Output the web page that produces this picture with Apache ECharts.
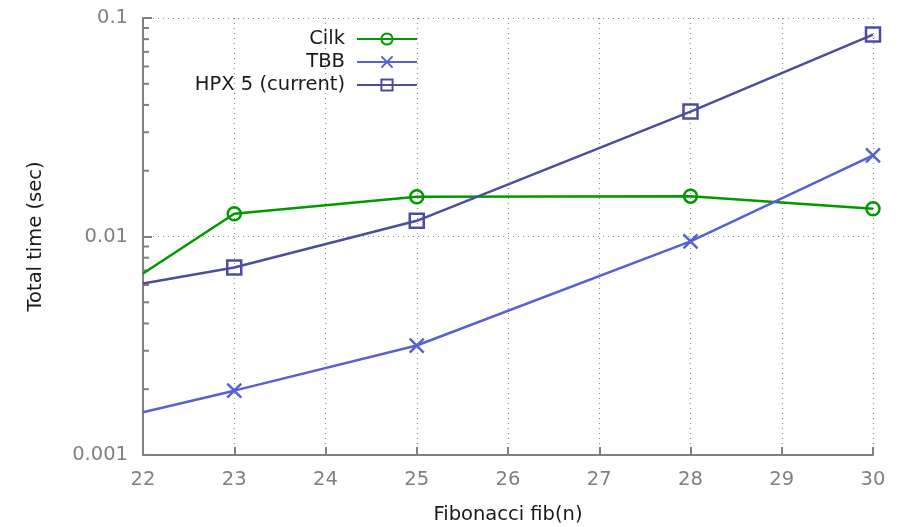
<!DOCTYPE html>
<html>
<head>
<meta charset="utf-8">
<script src="https://cdn.jsdelivr.net/npm/echarts@6/dist/echarts.min.js"></script>
<style>
  html, body { margin: 0; padding: 0; background: #fff; }
  #chart { width: 909px; height: 527px; }
</style>
</head>
<body>
<div id="chart"></div>
<script>
const fibN = [22, 23, 25, 28, 30]
const cilk = [0.00677, 0.0127, 0.0152, 0.0153, 0.0134]
const tbb = [0.00157, 0.00197, 0.00317, 0.0095, 0.0235]
const hpx = [0.0061, 0.00721, 0.0118, 0.0373, 0.084]

const axisGray = '#808080'
const font = 'DejaVu Sans'
const fs = 19.5

// first point sits on the left edge and has no marker in the original
const toData = (vals) => vals.map((v, i) => {
  const item = { value: [fibN[i], v] }
  if (i === 0) item.symbol = 'none'
  return item
})

const makeSeries = (name, vals, color, symbol, size) => ({
  name,
  type: 'line',
  data: toData(vals),
  symbol,
  symbolSize: size,
  showAllSymbol: true,
  lineStyle: { color, width: 2.5 },
  itemStyle: { color: 'rgba(0,0,0,0)', borderColor: color, borderWidth: 2.5 },
  emphasis: { disabled: true },
  animation: false
})

const chart = echarts.init(document.getElementById('chart'))

const option = {
  backgroundColor: '#fff',
  textStyle: { fontFamily: font },
  grid: { left: 143, right: 36, top: 18, bottom: 72, containLabel: false, outerBoundsMode: 'none' },
  legend: {
    orient: 'vertical',
    right: 491,
    top: 29,
    padding: 0,
    align: 'right',
    itemWidth: 60,
    itemHeight: 14,
    itemGap: 3,
    textStyle: { fontSize: fs, lineHeight: 20, color: '#1a1a1a', fontFamily: font, padding: [0, 7, 0, 0] },
    data: ['Cilk', 'TBB', 'HPX 5 (current)']
  },
  xAxis: {
    type: 'value',
    min: 22,
    max: 30,
    interval: 1,
    name: 'Fibonacci fib(n)',
    nameLocation: 'middle',
    nameGap: 50,
    nameTextStyle: { fontSize: fs, color: '#1a1a1a', fontFamily: font },
    axisLine: { show: true, lineStyle: { color: axisGray, width: 2 } },
    axisTick: { show: true, inside: true, length: 8, lineStyle: { color: axisGray, width: 2 } },
    axisLabel: { fontSize: fs, color: axisGray, margin: 15, fontFamily: font },
    splitLine: { show: true, lineStyle: { color: '#8c8c8c', type: [1, 4], width: 1.2 } }
  },
  yAxis: {
    type: 'log',
    min: 0.001,
    max: 0.1,
    logBase: 10,
    name: 'Total time (sec)',
    nameLocation: 'middle',
    nameGap: 97,
    nameTextStyle: { fontSize: fs, color: '#1a1a1a', fontFamily: font },
    axisLine: { show: true, lineStyle: { color: axisGray, width: 2 } },
    axisTick: { show: true, inside: true, length: 9, lineStyle: { color: axisGray, width: 2 } },
    axisLabel: { fontSize: fs, color: axisGray, margin: 15, fontFamily: font },
    splitLine: { show: true, lineStyle: { color: '#8c8c8c', type: [1, 4], width: 1.2 } }
  },
  series: [
    makeSeries('Cilk', cilk, '#009a00', 'circle', 13),
    makeSeries('TBB', tbb, '#5561d4', 'path://M0,0L10,10M10,0L0,10', 14),
    makeSeries('HPX 5 (current)', hpx, '#4d4d9f', 'rect', 14)
  ]
}

chart.setOption(option)

// minor ticks of the log axis (2..9 within each decade)
const minorTicks = []
const axisX = chart.convertToPixel({ xAxisIndex: 0 }, 22)
for (const base of [0.001, 0.01]) {
  for (let k = 2; k <= 9; k++) {
    const py = chart.convertToPixel({ yAxisIndex: 0 }, base * k)
    minorTicks.push({
      type: 'line',
      shape: { x1: axisX, y1: py, x2: axisX + 6, y2: py },
      style: { stroke: axisGray, lineWidth: 2 },
      silent: true
    })
  }
}
chart.setOption({ graphic: minorTicks })
</script>
</body>
</html>
